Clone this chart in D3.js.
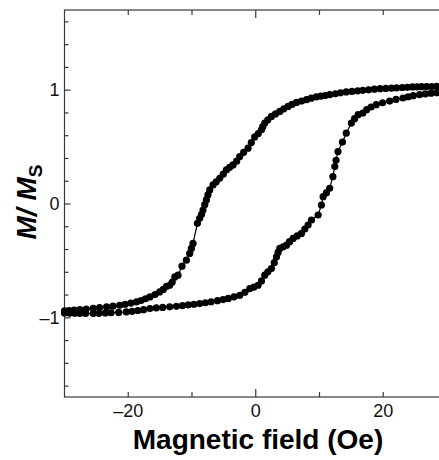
<!DOCTYPE html>
<html>
<head>
<meta charset="utf-8">
<script src="https://cdn.jsdelivr.net/npm/d3@7.9.0/dist/d3.min.js"></script>
<style>
  html, body { margin: 0; padding: 0; background: #fff; }
  svg { display: block; font-family: "Liberation Sans", Arial, sans-serif; }
</style>
</head>
<body>
<svg id="chart" width="439" height="460"></svg>
<script>
// descending branch (field from +30 down to -30): [field (Oe), M/Ms]
const descending = [
  [30.0, 1.030], [29.2, 1.029], [28.4, 1.029], [27.6, 1.028], [26.8, 1.027],
  [26.0, 1.026], [25.3, 1.025], [24.6, 1.024], [23.8, 1.021], [23.0, 1.019],
  [22.1, 1.015], [21.3, 1.013], [20.4, 1.011], [19.5, 1.009], [18.6, 1.004],
  [17.7, 0.999], [16.8, 0.994], [16.0, 0.990], [15.1, 0.985], [14.2, 0.980],
  [13.3, 0.972], [12.5, 0.964], [11.6, 0.956], [10.9, 0.949], [10.2, 0.943],
  [9.5, 0.936], [8.7, 0.925], [7.96, 0.912], [7.2, 0.900], [6.4, 0.888],
  [5.7, 0.870], [5.07, 0.853], [4.4, 0.832], [3.77, 0.809], [3.1, 0.787],
  [2.46, 0.765], [1.9, 0.735], [1.41, 0.707], [1.1, 0.675], [0.89, 0.648],
  [0.4, 0.615], [-0.16, 0.585], [-0.7, 0.535], [-1.21, 0.486], [-1.9, 0.450],
  [-2.51, 0.412], [-3.0, 0.372], [-3.56, 0.339], [-4.1, 0.318], [-4.6, 0.295],
  [-5.1, 0.258], [-5.65, 0.222], [-6.2, 0.190], [-6.7, 0.163], [-7.22, 0.119],
  [-7.5, 0.075], [-7.74, 0.031], [-8.0, -0.010], [-8.27, -0.057], [-8.5, -0.095],
  [-8.79, -0.130], [-9.15, -0.174], [-9.84, -0.351], [-10.1, -0.395], [-10.36, -0.439],
  [-10.88, -0.498], [-11.57, -0.551], [-12.2, -0.630], [-12.7, -0.645], [-13.1, -0.690],
  [-13.5, -0.718], [-14.0, -0.727], [-14.5, -0.755], [-15.07, -0.777], [-15.8, -0.800],
  [-16.6, -0.821], [-17.3, -0.837], [-18.0, -0.852], [-18.7, -0.865], [-19.6, -0.875],
  [-20.5, -0.885], [-21.35, -0.894], [-22.4, -0.902], [-23.4, -0.909], [-24.5, -0.915],
  [-25.5, -0.921], [-26.6, -0.927], [-27.6, -0.932], [-28.5, -0.937], [-29.3, -0.940],
  [-30.0, -0.944]
];

// ascending branch (field from -30 up to +30)
const ascending = [
  [-30.0, -0.962], [-29.2, -0.963], [-28.4, -0.964], [-27.6, -0.965], [-26.7, -0.966],
  [-25.5, -0.967], [-24.6, -0.965], [-23.6, -0.962], [-22.7, -0.960], [-21.5, -0.957],
  [-20.3, -0.953], [-19.4, -0.947], [-18.5, -0.940], [-17.6, -0.933], [-16.6, -0.923],
  [-15.6, -0.917], [-14.6, -0.913], [-13.5, -0.908], [-12.45, -0.903], [-11.5, -0.897],
  [-10.6, -0.890], [-9.7, -0.885], [-8.79, -0.879], [-7.9, -0.872], [-7.0, -0.863],
  [-6.0, -0.854], [-5.13, -0.844], [-4.3, -0.834], [-3.4, -0.820], [-2.51, -0.806],
  [-1.7, -0.780], [-0.94, -0.747], [-0.3, -0.735], [0.36, -0.718], [0.9, -0.680],
  [1.41, -0.630], [1.9, -0.600], [2.46, -0.571], [2.9, -0.520], [3.25, -0.469],
  [3.5, -0.430], [3.77, -0.395], [4.3, -0.380], [4.82, -0.366], [5.3, -0.335],
  [5.86, -0.307], [6.5, -0.285], [7.17, -0.263], [7.7, -0.225], [8.21, -0.189],
  [8.74, -0.145], [9.78, -0.101], [10.3, -0.013], [10.57, 0.060], [11.1, 0.095],
  [11.6, 0.134], [12.1, 0.236], [12.4, 0.324], [12.6, 0.380], [12.9, 0.456],
  [13.6, 0.540], [14.2, 0.618], [15.0, 0.707], [15.5, 0.745], [16.06, 0.780],
  [16.8, 0.795], [17.4, 0.824], [18.1, 0.848], [18.9, 0.868], [19.9, 0.885],
  [21.0, 0.900], [22.0, 0.914], [23.1, 0.927], [23.9, 0.938], [24.7, 0.947],
  [25.7, 0.956], [26.6, 0.963], [27.5, 0.969], [28.4, 0.974], [29.2, 0.977],
  [30.0, 0.980]
];

const xTicks = [-20, -10, 0, 10, 20];
const xTickLabels = [-20, 0, 20];
const yTicks = [-1.6, -1.4, -1.2, -1, -0.8, -0.6, -0.4, -0.2, 0, 0.2, 0.4, 0.6, 0.8, 1, 1.2, 1.4, 1.6];
const yTickLabels = [-1, 0, 1];

const svg = d3.select('#chart');
const plotLeft = 64.5, plotRight = 447, plotTop = 10, plotBottom = 397;

const x = d3.scaleLinear().domain([-30, 30]).range([plotLeft, plotRight]);
const y = d3.scaleLinear().domain([-1.7, 1.7]).range([plotBottom, plotTop]);

const fmt = d => d < 0 ? '\u2013' + Math.abs(d) : String(d);
const axisColor = '#3a3a3a';

// frame
svg.append('rect')
  .attr('x', plotLeft).attr('y', plotTop)
  .attr('width', plotRight - plotLeft).attr('height', plotBottom - plotTop)
  .attr('fill', 'none').attr('stroke', axisColor).attr('stroke-width', 1.2);

// x ticks, bottom and top, pointing inwards
const xLen = d => d === 0 ? 8 : 5;
svg.append('g').selectAll('line').data(xTicks).join('line')
  .attr('x1', d => x(d)).attr('x2', d => x(d))
  .attr('y1', plotBottom).attr('y2', d => plotBottom - xLen(d))
  .attr('stroke', axisColor).attr('stroke-width', 1.2);
svg.append('g').selectAll('line').data(xTicks).join('line')
  .attr('x1', d => x(d)).attr('x2', d => x(d))
  .attr('y1', plotTop).attr('y2', d => plotTop + xLen(d))
  .attr('stroke', axisColor).attr('stroke-width', 1.2);

// y ticks on left
const yAxis = d3.axisRight(y).tickValues(yTicks)
  .tickSize(4).tickFormat('');
svg.append('g').attr('transform', `translate(${plotLeft},0)`).call(yAxis)
  .call(g => g.select('.domain').remove())
  .call(g => g.selectAll('line').attr('stroke', axisColor).attr('stroke-width', 1.2)
    .attr('x2', d => yTickLabels.includes(d) ? 6 : 4));

// tick labels
svg.append('g').selectAll('text').data(xTickLabels).join('text')
  .attr('x', d => x(d)).attr('y', 417)
  .attr('text-anchor', 'middle')
  .attr('font-size', 18)
  .attr('fill', '#111')
  .text(fmt);

svg.append('g').selectAll('text').data(yTickLabels).join('text')
  .attr('x', plotLeft - 5).attr('y', d => y(d))
  .attr('dy', '0.36em')
  .attr('text-anchor', 'end')
  .attr('font-size', 18)
  .attr('fill', '#111')
  .text(fmt);

// loop: line + dots
const points = descending.concat(ascending);
const line = d3.line().x(d => x(d[0])).y(d => y(d[1]));
svg.append('path')
  .datum(points)
  .attr('d', line)
  .attr('fill', 'none')
  .attr('stroke', '#000')
  .attr('stroke-width', 1.2);

svg.append('g').selectAll('circle').data(points).join('circle')
  .attr('cx', d => x(d[0]))
  .attr('cy', d => y(d[1]))
  .attr('r', 3.6)
  .attr('fill', '#000');

// axis titles
svg.append('text')
  .attr('x', 258).attr('y', 449)
  .attr('text-anchor', 'middle')
  .attr('font-size', 28)
  .attr('font-weight', 'bold')
  .attr('fill', '#000')
  .text('Magnetic field (Oe)');

const yt = svg.append('text')
  .attr('transform', 'translate(36,202) rotate(-90)')
  .attr('text-anchor', 'middle')
  .attr('font-size', 28)
  .attr('font-weight', 'bold')
  .attr('fill', '#000');
yt.append('tspan').attr('font-style', 'italic').text('M/ M');
yt.append('tspan').attr('font-size', 19).attr('dy', '0.3em').text('S');
</script>
</body>
</html>
